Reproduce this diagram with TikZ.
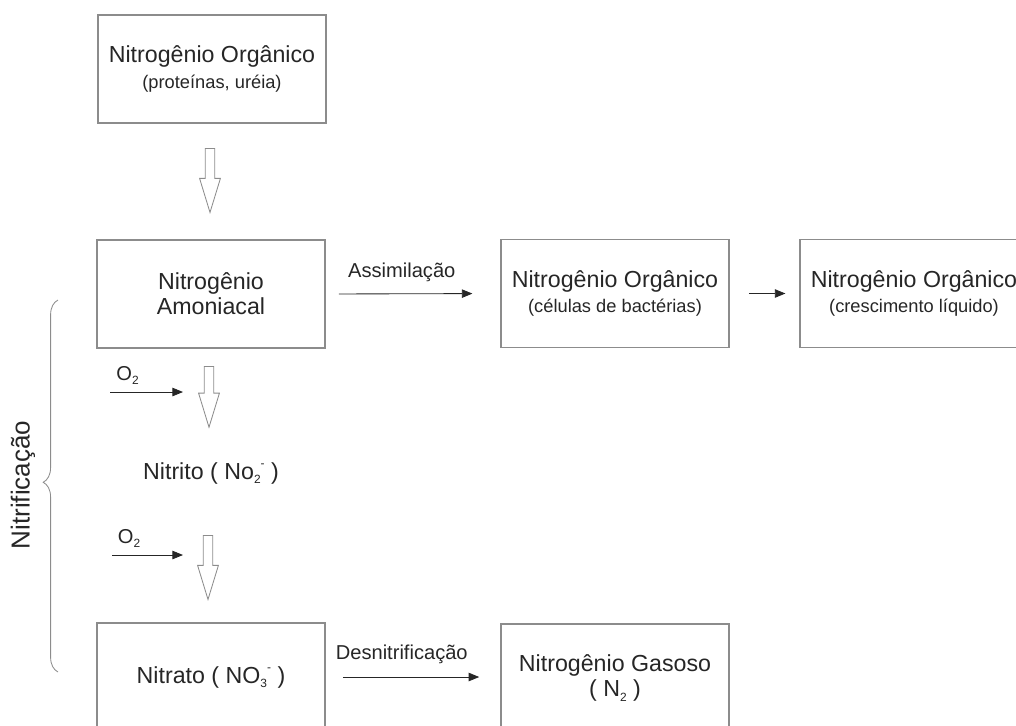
\documentclass[tikz,border=0pt]{standalone}
\usepackage{fontspec}
\setmainfont{Liberation Sans}
\usetikzlibrary{arrows.meta,positioning,shapes.arrows,decorations.pathreplacing}

\newcommand{\subtxt}[1]{{\fontsize{13}{15}\selectfont #1}}
\newcommand{\lowtxt}[1]{\raisebox{-0.35ex}{\fontsize{8.5}{9}\selectfont #1}}
\newcommand{\hightxt}[1]{\raisebox{0.9ex}{\fontsize{8.5}{9}\selectfont #1}}

\begin{document}
\begin{tikzpicture}[
  x=0.025cm, y=-0.025cm,
  >={Triangle[length=7.5pt,width=6pt]},
  every node/.style={text=black!85},
  block/.style={rectangle, draw=black!45, line width=0.8pt, align=center, minimum width=5.7cm, minimum height=2.7cm, font=\fontsize{16.5}{18}\selectfont},
  plain/.style={align=center, font=\fontsize{16.5}{18}\selectfont},
  downarrow/.style={single arrow, draw=black!45, line width=0.6pt, shape border rotate=270, inner sep=0.11cm, single arrow head extend=0.14cm, single arrow tip angle=34, minimum height=1.6cm},
  lbl/.style={font=\fontsize{14.3}{16}\selectfont},
  line/.style={draw=black!85, line width=0.6pt, ->}
]
\clip (0,0) rectangle (1016,725);

\node[block] (org1) at (212,69) {Nitrogênio Orgânico\\ \subtxt{(proteínas, uréia)}};
\node[block] (amon) at (211,294) {Nitrogênio\\Amoniacal};
\node[block] (cel) at (615,293.5) {Nitrogênio Orgânico\\ \subtxt{(células de bactérias)}};
\node[block] (liq) at (914,293.5) {Nitrogênio Orgânico\\ \subtxt{(crescimento líquido)}};
\node[plain] (nitrito) at (211,473) {Nitrito ( No\lowtxt{2}\hightxt{-} )};
\node[block] (nitrato) at (211,677) {Nitrato ( NO\lowtxt{3}\hightxt{-} )};
\node[block] (gas) at (615,678) {Nitrogênio Gasoso\\( N\lowtxt{2} )};

% hollow arrows down the left column
\node[downarrow, anchor=tail] (d1) at (210,148) {};
\node[downarrow, anchor=tail, minimum height=1.52cm] (d2) at (209,366) {};
\node[downarrow, anchor=tail] (d3) at (208,535) {};

% oxygen inputs
\coordinate (oa1) at (110,392);
\coordinate (ob1) at (183,392);
\coordinate (oa2) at (112,555);
\coordinate (ob2) at (183,555);
\path[line] (oa1) -- (ob1) node[lbl, pos=0.24, above=2pt]{O\lowtxt{2}};
\path[line] (oa2) -- (ob2) node[lbl, pos=0.24, above=2pt]{O\lowtxt{2}};

\path[line, shorten <=0.33cm, shorten >=0.7cm] (amon.east) -- (cel.west) node[lbl, midway, above=5pt, xshift=-8pt]{Assimilação};
\path[line, shorten <=0.48cm, shorten >=0.35cm] (cel.east) -- (liq.west);
\path[line, shorten <=0.43cm, shorten >=0.53cm] (nitrato.east) -- (nitrato.east -| gas.west) node[lbl, midway, above=6pt, xshift=-8pt]{Desnitrificação};

% nitrification brace
\coordinate (bb) at (58,672);
\coordinate (bt) at (58,300);
\draw[black!45, line width=0.6pt, decorate, decoration={brace, amplitude=0.37cm, aspect=0.51}] (bb) -- (bt);
\node[rotate=90, font=\fontsize{18.5}{20}\selectfont] (nitr) at (23,485) {Nitrificação};

\end{tikzpicture}
\end{document}
